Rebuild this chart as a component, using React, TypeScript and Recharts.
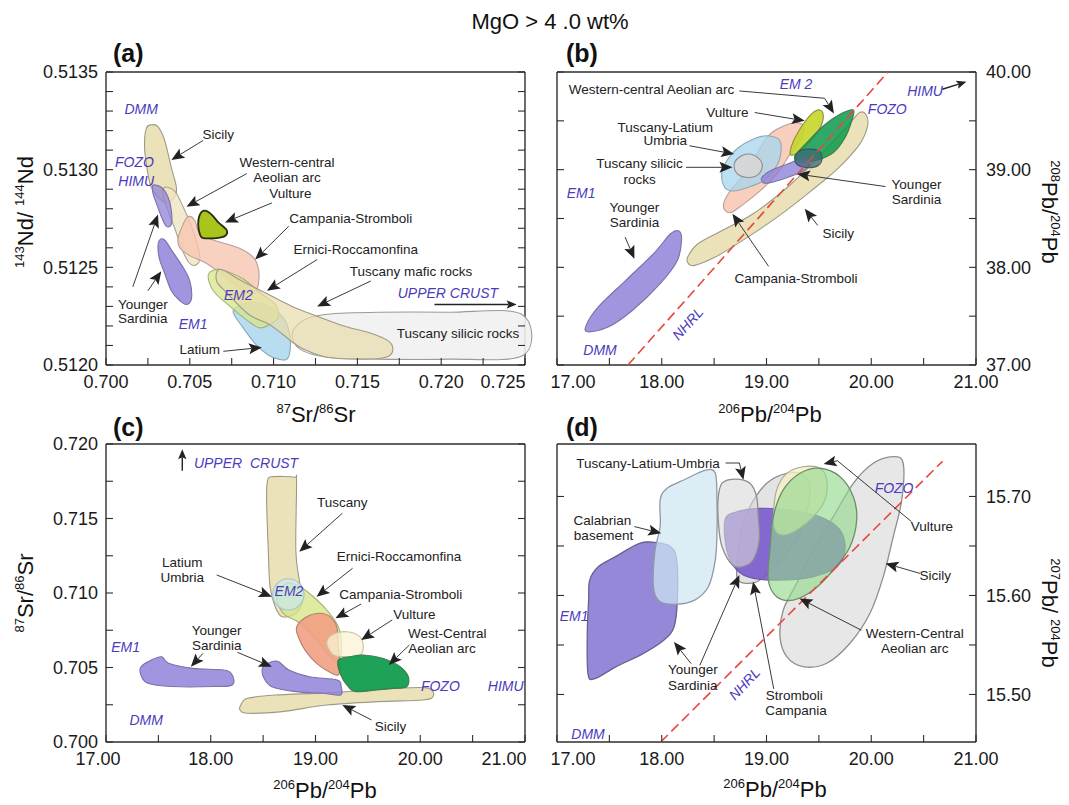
import React from 'react';
import { ScatterChart, Scatter, XAxis, YAxis } from 'recharts';

type Pair = [number, number];
type Note = { x: number; y: number; t: string };
type Pt = { x: number; y: number };

const PAGE_W = 1069;
const PAGE_H = 805;
const FONT = "'Liberation Sans', Arial, Helvetica, sans-serif";
const INK = '#222';
const MEMBER = '#4a3bbd';
const FRAME = '#2e2e2e';

// ---------- (a) 143Nd/144Nd vs 87Sr/86Sr ----------
const A_X_TICKS = [0.7, 0.7025, 0.705, 0.7075, 0.71, 0.7125, 0.715, 0.7175, 0.72, 0.7225, 0.725];
const A_Y_TICKS = [0.512, 0.5121, 0.5122, 0.5123, 0.5124, 0.5125, 0.5126, 0.5127, 0.5128, 0.5129, 0.513, 0.5131, 0.5132, 0.5133, 0.5134, 0.5135];

const A_TUSC_SILICIC: Pair[] = [[0.7111, 0.51216], [0.7118, 0.51223], [0.7132, 0.51226], [0.7163, 0.51227], [0.7204, 0.51227], [0.7248, 0.51226], [0.7249, 0.51205], [0.7204, 0.51203], [0.7163, 0.51203], [0.7132, 0.51204], [0.7116, 0.51208]];
const A_SICILY: Pair[] = [[0.7024, 0.51321], [0.7027, 0.51323], [0.7031, 0.51322], [0.7035, 0.51315], [0.7039, 0.51301], [0.7042, 0.51291], [0.7041, 0.51286], [0.7036, 0.51283], [0.7031, 0.51286], [0.7027, 0.51291], [0.7025, 0.51298], [0.7023, 0.51311]];
const A_WCAA: Pair[] = [[0.7035, 0.51291], [0.7041, 0.51289], [0.7046, 0.51281], [0.7051, 0.51271], [0.7055, 0.5126], [0.7056, 0.51254], [0.7053, 0.51251], [0.7049, 0.51253], [0.7045, 0.5126], [0.7041, 0.5127], [0.7037, 0.51279], [0.7034, 0.51287]];
const A_YS_UPPER: Pair[] = [[0.7028, 0.51292], [0.7033, 0.51291], [0.7037, 0.51286], [0.7039, 0.51279], [0.7039, 0.51272], [0.7036, 0.51271], [0.7033, 0.51276], [0.703, 0.51283], [0.7028, 0.51288]];
const A_YS_LOWER: Pair[] = [[0.7032, 0.51264], [0.7035, 0.51264], [0.7039, 0.51259], [0.7046, 0.5125], [0.705, 0.51243], [0.7051, 0.51234], [0.7048, 0.51231], [0.7044, 0.51233], [0.7039, 0.51238], [0.7035, 0.51247], [0.7032, 0.51254], [0.7031, 0.5126]];
const A_CAMPANIA: Pair[] = [[0.7049, 0.51276], [0.7053, 0.51274], [0.7056, 0.51267], [0.7064, 0.51264], [0.7079, 0.5126], [0.7088, 0.51255], [0.7091, 0.51249], [0.7091, 0.51242], [0.7089, 0.51237], [0.7084, 0.51237], [0.7079, 0.5124], [0.707, 0.51246], [0.706, 0.51252], [0.705, 0.51256], [0.7044, 0.5126], [0.7043, 0.51265], [0.7046, 0.51272]];
const A_LATIUM: Pair[] = [[0.7076, 0.51228], [0.7081, 0.51231], [0.7089, 0.51232], [0.7097, 0.5123], [0.7105, 0.51225], [0.7109, 0.51218], [0.711, 0.51209], [0.7108, 0.51203], [0.7103, 0.51203], [0.7097, 0.51205], [0.7089, 0.51211], [0.7081, 0.5122], [0.7077, 0.51225]];
const A_ERNICI: Pair[] = [[0.7061, 0.51246], [0.7066, 0.51249], [0.7072, 0.51248], [0.7082, 0.51244], [0.7092, 0.51237], [0.7101, 0.51231], [0.7103, 0.51225], [0.71, 0.51222], [0.7092, 0.51219], [0.7084, 0.51223], [0.7074, 0.5123], [0.7064, 0.51238]];
const A_TUSC_MAFIC: Pair[] = [[0.7068, 0.51249], [0.7081, 0.51243], [0.7095, 0.51237], [0.7111, 0.5123], [0.7126, 0.51225], [0.7142, 0.5122], [0.7159, 0.51216], [0.7169, 0.51212], [0.7171, 0.51207], [0.7167, 0.51204], [0.7155, 0.51203], [0.7132, 0.51204], [0.7116, 0.51209], [0.7105, 0.51216], [0.7097, 0.51221], [0.7085, 0.51226], [0.7072, 0.51237], [0.7066, 0.51243]];
const A_VULTURE: Pair[] = [[0.7056, 0.51277], [0.7059, 0.51279], [0.7063, 0.51277], [0.7067, 0.51273], [0.7072, 0.51269], [0.7071, 0.51266], [0.7066, 0.51265], [0.7058, 0.51265], [0.7056, 0.51267], [0.7055, 0.51272]];

const A_NOTES: Note[] = [
  { x: 0.7067, y: 0.51318, t: 'Sicily' },
  { x: 0.7108, y: 0.51304, t: 'Western-central' },
  { x: 0.7108, y: 0.51296, t: 'Aeolian arc' },
  { x: 0.711, y: 0.51288, t: 'Vulture' },
  { x: 0.7146, y: 0.51275, t: 'Campania-Stromboli' },
  { x: 0.7149, y: 0.51259, t: 'Ernici-Roccamonfina' },
  { x: 0.7182, y: 0.51248, t: 'Tuscany mafic rocks' },
  { x: 0.7022, y: 0.51231, t: 'Younger' },
  { x: 0.7022, y: 0.51224, t: 'Sardinia' },
  { x: 0.7056, y: 0.51208, t: 'Latium' },
  { x: 0.721, y: 0.51216, t: 'Tuscany silicic rocks' },
];
const A_MEMBERS: Note[] = [
  { x: 0.7021, y: 0.51331, t: 'DMM' },
  { x: 0.7017, y: 0.51304, t: 'FOZO' },
  { x: 0.7018, y: 0.51294, t: 'HIMU' },
  { x: 0.7052, y: 0.51221, t: 'EM1' },
  { x: 0.7079, y: 0.51236, t: 'EM2' },
  { x: 0.7204, y: 0.51237, t: 'UPPER CRUST' },
];
const A_ARROWS: Pair[][] = [
  [[0.7058, 0.51315], [0.7039, 0.51305]],
  [[0.7084, 0.51298], [0.7048, 0.51281]],
  [[0.7099, 0.51283], [0.7071, 0.51273]],
  [[0.7109, 0.51271], [0.7089, 0.51254]],
  [[0.7126, 0.51254], [0.7096, 0.51238]],
  [[0.7158, 0.51243], [0.7126, 0.5123]],
  [[0.7016, 0.5124], [0.7031, 0.51277]],
  [[0.7025, 0.51238], [0.7033, 0.51248]],
  [[0.707, 0.51207], [0.7093, 0.51209]],
];
const A_POINTERS: Pair[][] = [[[0.7196, 0.51231], [0.7245, 0.51231]]];

// ---------- (b) 208Pb/204Pb vs 206Pb/204Pb ----------
const PB_X_TICKS = [17, 17.5, 18, 18.5, 19, 19.5, 20, 20.5, 21];
const B_Y_TICKS = [37, 37.5, 38, 38.5, 39, 39.5, 40];

const B_YS_MAIN: Pair[] = [[17.279, 37.408], [17.394, 37.595], [17.657, 37.867], [17.92, 38.139], [18.084, 38.344], [18.166, 38.371], [18.189, 38.276], [18.149, 38.071], [17.985, 37.833], [17.722, 37.561], [17.493, 37.391], [17.296, 37.34]];
const B_SICILY: Pair[] = [[18.248, 38.105], [18.346, 38.241], [18.576, 38.378], [18.872, 38.548], [19.2, 38.82], [19.496, 39.126], [19.759, 39.432], [19.89, 39.585], [19.956, 39.551], [19.962, 39.432], [19.89, 39.262], [19.693, 39.024], [19.43, 38.786], [19.102, 38.514], [18.773, 38.276], [18.511, 38.105], [18.314, 38.02], [18.255, 38.037]];
const B_CAMPANIA: Pair[] = [[18.588, 38.628], [18.652, 38.782], [18.811, 38.986], [19.002, 39.327], [19.129, 39.43], [19.272, 39.481], [19.351, 39.447], [19.336, 39.327], [19.224, 39.157], [19.097, 38.953], [18.938, 38.782], [18.778, 38.645], [18.652, 38.559]];
const B_TLU: Pair[] = [[18.572, 38.953], [18.62, 39.089], [18.731, 39.225], [18.906, 39.327], [19.033, 39.345], [19.129, 39.294], [19.129, 39.123], [19.065, 38.986], [18.969, 38.884], [18.811, 38.815], [18.683, 38.782], [18.604, 38.815]];
const B_TUSC_SILICIC: Pair[] = [[18.96, 39.04], [18.92, 39.12], [18.83, 39.16], [18.73, 39.12], [18.69, 39.04], [18.73, 38.95], [18.83, 38.92], [18.92, 38.95]];
const B_VULTURE: Pair[] = [[19.224, 39.174], [19.272, 39.327], [19.384, 39.516], [19.479, 39.608], [19.537, 39.583], [19.527, 39.465], [19.447, 39.327], [19.32, 39.191], [19.256, 39.15]];
const B_WCAA: Pair[] = [[19.272, 39.14], [19.384, 39.276], [19.542, 39.447], [19.702, 39.567], [19.829, 39.611], [19.813, 39.498], [19.749, 39.327], [19.638, 39.174], [19.479, 39.096], [19.32, 39.082]];
const B_YS_SMALL: Pair[] = [[18.954, 38.918], [19.033, 38.986], [19.193, 39.055], [19.351, 39.116], [19.415, 39.071], [19.351, 38.986], [19.193, 38.918], [19.033, 38.867], [18.969, 38.867]];
const B_YS_DARK: Pair[] = [[19.53, 39.11], [19.5, 39.19], [19.4, 39.21], [19.3, 39.18], [19.27, 39.1], [19.31, 39.04], [19.4, 39.02], [19.49, 39.04]];
const B_NHRL: Pair[] = [[17.678, 37.0], [20.159, 40.0]];

const B_NOTES: Note[] = [
  { x: 17.903, y: 39.823, t: 'Western-central Aeolian arc' },
  { x: 18.626, y: 39.585, t: 'Vulture' },
  { x: 18.034, y: 39.439, t: 'Tuscany-Latium' },
  { x: 18.034, y: 39.296, t: 'Umbria' },
  { x: 17.788, y: 39.065, t: 'Tuscany silicic' },
  { x: 17.788, y: 38.905, t: 'rocks' },
  { x: 17.739, y: 38.616, t: 'Younger' },
  { x: 17.739, y: 38.463, t: 'Sardinia' },
  { x: 20.432, y: 38.854, t: 'Younger' },
  { x: 20.432, y: 38.701, t: 'Sardinia' },
  { x: 19.686, y: 38.344, t: 'Sicily' },
  { x: 19.282, y: 37.884, t: 'Campania-Stromboli' },
];
const B_MEMBERS: Note[] = [
  { x: 19.282, y: 39.874, t: 'EM 2' },
  { x: 20.514, y: 39.806, t: 'HIMU' },
  { x: 20.153, y: 39.619, t: 'FOZO' },
  { x: 17.23, y: 38.759, t: 'EM1' },
  { x: 17.411, y: 37.153, t: 'DMM' },
];
const B_TILTED: Note[] = [{ x: 18.248, y: 37.425, t: 'NHRL' }];
const B_ARROWS: Pair[][] = [
  [[18.741, 39.806], [19.555, 39.731], [19.644, 39.575]],
  [[18.888, 39.585], [19.365, 39.5]],
  [[18.264, 39.245], [18.691, 39.16]],
  [[18.232, 39.024], [18.675, 39.024]],
  [[17.65, 38.31], [17.739, 38.088]],
  [[20.136, 38.827], [19.292, 38.956]],
  [[19.489, 38.429], [19.365, 38.599]],
  [[19.02, 38.01], [18.675, 38.548]],
];
const B_POINTERS: Pair[][] = [[[20.678, 39.823], [20.908, 39.901]]];

// ---------- (c) 87Sr/86Sr vs 206Pb/204Pb ----------
const C_Y_TICKS = [0.7, 0.7025, 0.705, 0.7075, 0.71, 0.7125, 0.715, 0.7175, 0.72];

const C_SICILY: Pair[] = [[18.287, 0.70248], [18.353, 0.70293], [18.615, 0.70315], [19.108, 0.7033], [19.6, 0.70353], [19.995, 0.70366], [20.109, 0.70349], [20.12, 0.70304], [20.027, 0.70282], [19.6, 0.70271], [19.108, 0.70248], [18.681, 0.70204], [18.353, 0.70193], [18.28, 0.70215]];
const C_TUSCANY: Pair[] = [[18.543, 0.71758], [18.599, 0.71781], [18.796, 0.71777], [18.819, 0.71747], [18.812, 0.71289], [18.845, 0.71087], [18.878, 0.70953], [18.812, 0.70864], [18.681, 0.70841], [18.615, 0.70908], [18.566, 0.71042], [18.549, 0.71289], [18.533, 0.71624]];
const C_ERNICI: Pair[] = [[18.63, 0.70975], [18.725, 0.71065], [18.852, 0.71042], [18.979, 0.70975], [19.107, 0.70886], [19.218, 0.70774], [19.25, 0.7064], [19.218, 0.7055], [19.138, 0.70572], [19.011, 0.70685], [18.852, 0.70797], [18.693, 0.70864]];
const C_LATIUM: Pair[] = [[18.891, 0.70991], [18.847, 0.71065], [18.741, 0.71096], [18.635, 0.71065], [18.591, 0.70991], [18.635, 0.70917], [18.741, 0.70886], [18.847, 0.70917]];
const C_YS_WEST: Pair[] = [[17.334, 0.70505], [17.433, 0.7055], [17.532, 0.70572], [17.598, 0.70528], [17.827, 0.70494], [18.123, 0.70483], [18.205, 0.7045], [18.205, 0.70383], [18.025, 0.70372], [17.63, 0.70372], [17.4, 0.70394], [17.334, 0.7045]];
const C_YS_EAST: Pair[] = [[18.501, 0.70505], [18.583, 0.70539], [18.648, 0.70539], [18.747, 0.70483], [18.944, 0.70438], [19.206, 0.70416], [19.245, 0.70371], [19.239, 0.70315], [19.075, 0.70327], [18.812, 0.70338], [18.583, 0.70371], [18.501, 0.70438]];
const C_CAMPANIA: Pair[] = [[18.821, 0.70774], [18.916, 0.70841], [19.043, 0.70864], [19.138, 0.70841], [19.202, 0.70774], [19.218, 0.7064], [19.234, 0.70506], [19.218, 0.7045], [19.155, 0.70461], [19.011, 0.70528], [18.9, 0.70617], [18.836, 0.70706]];
const C_VULTURE: Pair[] = [[19.107, 0.70662], [19.155, 0.70718], [19.298, 0.7074], [19.425, 0.70706], [19.456, 0.7064], [19.425, 0.70584], [19.298, 0.70573], [19.17, 0.70584]];
const C_WCAA: Pair[] = [[19.218, 0.7055], [19.329, 0.70572], [19.456, 0.70584], [19.647, 0.70561], [19.807, 0.70506], [19.886, 0.70438], [19.871, 0.70371], [19.743, 0.7036], [19.584, 0.70349], [19.393, 0.70338], [19.313, 0.70371], [19.234, 0.70461]];

const C_NOTES: Note[] = [
  { x: 19.256, y: 0.71606, t: 'Tuscany' },
  { x: 19.797, y: 0.71244, t: 'Ernici-Roccamonfina' },
  { x: 17.728, y: 0.71203, t: 'Latium' },
  { x: 17.728, y: 0.71105, t: 'Umbria' },
  { x: 19.814, y: 0.70993, t: 'Campania-Stromboli' },
  { x: 19.945, y: 0.70859, t: 'Vulture' },
  { x: 20.257, y: 0.70729, t: 'West-Central' },
  { x: 20.208, y: 0.70629, t: 'Aeolian arc' },
  { x: 18.057, y: 0.70752, t: 'Younger' },
  { x: 18.057, y: 0.70651, t: 'Sardinia' },
  { x: 19.715, y: 0.70103, t: 'Sicily' },
];
const C_MEMBERS: Note[] = [
  { x: 18.337, y: 0.7187, t: 'UPPER\u00a0\u00a0CRUST' },
  { x: 18.747, y: 0.71015, t: 'EM2' },
  { x: 17.187, y: 0.70636, t: 'EM1' },
  { x: 20.192, y: 0.70376, t: 'FOZO' },
  { x: 20.816, y: 0.70376, t: 'HIMU' },
  { x: 17.384, y: 0.70148, t: 'DMM' },
];
const C_ARROWS: Pair[][] = [
  [[19.256, 0.71535], [18.845, 0.71277]],
  [[19.354, 0.71166], [19.01, 0.70975]],
  [[18.057, 0.71121], [18.583, 0.70975]],
  [[19.436, 0.70926], [19.19, 0.7083]],
  [[19.732, 0.70819], [19.436, 0.70685]],
  [[19.896, 0.70651], [19.699, 0.70517]],
  [[17.926, 0.70595], [17.81, 0.70505]],
  [[18.254, 0.70602], [18.583, 0.70505]],
  [[19.535, 0.70148], [19.256, 0.70248]],
];
const C_POINTERS: Pair[][] = [[[17.728, 0.71821], [17.728, 0.71964]]];

// ---------- (d) 207Pb/204Pb vs 206Pb/204Pb ----------
const D_Y_TICKS = [15.5, 15.55, 15.6, 15.65, 15.7];

const D_SICILY: Pair[] = [[19.129, 15.5584], [19.16, 15.5853], [19.288, 15.6123], [19.447, 15.6459], [19.638, 15.6796], [19.829, 15.7133], [20.019, 15.7335], [20.21, 15.7402], [20.305, 15.7335], [20.291, 15.6964], [20.21, 15.6594], [20.115, 15.619], [19.988, 15.582], [19.797, 15.5517], [19.575, 15.5315], [19.351, 15.5281], [19.193, 15.5382]];
const D_YS_WEST: Pair[] = [[17.312, 15.6155], [17.394, 15.6291], [17.558, 15.6392], [17.788, 15.6527], [17.952, 15.6534], [18.084, 15.6493], [18.143, 15.6358], [18.149, 15.5953], [18.117, 15.5682], [18.018, 15.5547], [17.821, 15.5412], [17.558, 15.5277], [17.361, 15.5159], [17.296, 15.5209], [17.289, 15.5615], [17.302, 15.5953]];
const D_CALABRIAN: Pair[] = [[17.985, 15.6966], [18.051, 15.7084], [18.215, 15.7169], [18.412, 15.7264], [18.511, 15.7236], [18.527, 15.6966], [18.527, 15.6628], [18.511, 15.6358], [18.445, 15.6088], [18.314, 15.5953], [18.149, 15.5912], [17.985, 15.5936], [17.92, 15.6088], [17.936, 15.6459], [17.985, 15.6696]];
const D_STROMBOLI: Pair[] = [[18.716, 15.6257], [18.747, 15.6594], [18.842, 15.6897], [19.002, 15.7133], [19.193, 15.7234], [19.351, 15.7217], [19.415, 15.7032], [19.32, 15.6628], [19.129, 15.6358], [18.938, 15.6156], [18.811, 15.6123], [18.731, 15.6156]];
const D_YS_EAST: Pair[] = [[18.604, 15.6762], [18.716, 15.6846], [18.938, 15.688], [19.224, 15.6863], [19.511, 15.6796], [19.702, 15.6661], [19.749, 15.6459], [19.67, 15.6291], [19.447, 15.619], [19.16, 15.6156], [18.874, 15.6173], [18.716, 15.6257], [18.62, 15.6459]];
const D_TLU: Pair[] = [[18.537, 15.6966], [18.576, 15.7135], [18.708, 15.7176], [18.839, 15.7135], [18.905, 15.7], [18.921, 15.6797], [18.931, 15.6561], [18.872, 15.6358], [18.773, 15.6291], [18.675, 15.6307], [18.576, 15.6493], [18.544, 15.6696]];
const D_VULTURE: Pair[] = [[19.065, 15.6796], [19.097, 15.7066], [19.193, 15.7234], [19.351, 15.7301], [19.511, 15.7285], [19.575, 15.7167], [19.559, 15.6965], [19.447, 15.6796], [19.288, 15.6661], [19.16, 15.6611], [19.081, 15.6661]];
const D_WCAA: Pair[] = [[19.033, 15.6459], [19.065, 15.6796], [19.16, 15.7066], [19.32, 15.7234], [19.511, 15.7285], [19.702, 15.72], [19.829, 15.6998], [19.861, 15.6762], [19.797, 15.6493], [19.638, 15.6257], [19.447, 15.6055], [19.256, 15.5954], [19.097, 15.5988], [19.017, 15.6156]];
const D_NHRL: Pair[] = [[17.99, 15.452], [20.68, 15.7355]];

const D_NOTES: Note[] = [
  { x: 17.87, y: 15.7338, t: 'Tuscany-Latium-Umbria' },
  { x: 17.434, y: 15.6757, t: 'Calabrian' },
  { x: 17.444, y: 15.6608, t: 'basement' },
  { x: 20.58, y: 15.6696, t: 'Vulture' },
  { x: 20.612, y: 15.62, t: 'Sicily' },
  { x: 20.415, y: 15.5615, t: 'Western-Central' },
  { x: 20.415, y: 15.5463, t: 'Aeolian arc' },
  { x: 18.297, y: 15.525, t: 'Younger' },
  { x: 18.297, y: 15.5098, t: 'Sardinia' },
  { x: 19.266, y: 15.499, t: 'Stromboli' },
  { x: 19.282, y: 15.4838, t: 'Campania' },
];
const D_MEMBERS: Note[] = [
  { x: 20.218, y: 15.7084, t: 'FOZO' },
  { x: 17.164, y: 15.5791, t: 'EM1' },
  { x: 17.296, y: 15.4601, t: 'DMM' },
];
const D_TILTED: Note[] = [{ x: 18.79, y: 15.5108, t: 'NHRL' }];
const D_ARROWS: Pair[][] = [
  [[18.609, 15.7338], [18.741, 15.7338], [18.78, 15.7169]],
  [[17.739, 15.6696], [17.995, 15.6628]],
  [[20.383, 15.6747], [19.677, 15.7361], [19.545, 15.7328]],
  [[20.465, 15.6223], [20.136, 15.6324]],
  [[19.906, 15.5649], [19.315, 15.597]],
  [[18.363, 15.5294], [18.741, 15.6206]],
  [[18.281, 15.5311], [18.117, 15.553]],
  [[19.069, 15.5057], [18.872, 15.6139]],
];

// ---------- helpers ----------
const toPts = (pairs: Pair[]) => pairs.map(([x, y]) => ({ x, y }));
const onStep = (v: number, step: number) => Math.abs(v / step - Math.round(v / step)) < 1e-6;

// closed Catmull-Rom outline through the projected vertices
const smoothClosed = (pts: Pt[]) => {
  const n = pts.length;
  if (n < 3) return '';
  let d = `M${pts[0].x},${pts[0].y}`;
  for (let i = 0; i < n; i++) {
    const p0 = pts[(i - 1 + n) % n];
    const p1 = pts[i];
    const p2 = pts[(i + 1) % n];
    const p3 = pts[(i + 2) % n];
    const c1x = p1.x + (p2.x - p0.x) / 6;
    const c1y = p1.y + (p2.y - p0.y) / 6;
    const c2x = p2.x - (p3.x - p1.x) / 6;
    const c2y = p2.y - (p3.y - p1.y) / 6;
    d += ` C${c1x},${c1y} ${c2x},${c2y} ${p2.x},${p2.y}`;
  }
  return d + ' Z';
};

const arrowLine = (head: number, width: number) => (lp: any) => {
  const pts: Pt[] = lp.points;
  const n = pts.length;
  const a = pts[n - 2];
  const b = pts[n - 1];
  const ang = Math.atan2(b.y - a.y, b.x - a.x);
  const cos = Math.cos(ang);
  const sin = Math.sin(ang);
  const bx = b.x - head * cos;
  const by = b.y - head * sin;
  const half = head * 0.42;
  const nx = b.x - head * 0.8 * cos;
  const ny = b.y - head * 0.8 * sin;
  const shaft = pts.slice(0, n - 1).map((q, i) => `${i ? 'L' : 'M'}${q.x},${q.y}`).join(' ') + ` L${nx},${ny}`;
  const tip = `M${b.x},${b.y} L${bx + half * sin},${by - half * cos} L${nx},${ny} L${bx - half * sin},${by + half * cos} Z`;
  return (
    <g>
      <path d={shaft} fill="none" stroke={INK} strokeWidth={width} />
      <path d={tip} fill={INK} />
    </g>
  );
};

const dashedLine = (lp: any) => {
  const pts: Pt[] = lp.points;
  return <path d={`M${pts[0].x},${pts[0].y} L${pts[1].x},${pts[1].y}`} stroke="#e8473d" strokeWidth={1.6} strokeDasharray="10 5" fill="none" />;
};

const blank = () => <g />;

interface Field { data: Pair[]; fill: string; stroke: string; opacity: number; width?: number }
interface Box { left: number; top: number; right: number; bottom: number }
interface PanelSpec {
  id: string;
  box: Box;
  xDomain: [number, number];
  yDomain: [number, number];
  xTicks: number[];
  yTicks: number[];
  xLabel: (v: number) => string;
  yLabel: (v: number) => string;
  ySide: 'left' | 'right';
  xShift: Record<string, number>;
  fields: Field[];
  notes: Note[];
  members: Note[];
  tilted: Note[];
  tiltAngle: number;
  arrows: Pair[][];
  pointers: Pair[][];
  nhrl: Pair[] | null;
}

const TAN = { fill: '#e8dcaa', stroke: '#9e9a88', opacity: 0.82 };
const CREAM = { fill: '#efe5c0', stroke: '#a8a490', opacity: 0.8 };
const PINK = { fill: '#f8c6b2', stroke: '#b8a098', opacity: 0.8 };
const LILAC = { fill: '#8f82d8', stroke: '#7b72a8', opacity: 0.85 };
const SKY = { fill: '#a6d5ee', stroke: '#8aa8b8', opacity: 0.8 };
const LIME = { fill: '#d6e68a', stroke: '#a8b078', opacity: 0.8 };
const PALE = { fill: '#f1f1f1', stroke: '#9a9a9a', opacity: 0.9 };
const GREEN = { fill: '#0b9a4a', stroke: '#3f7a50', opacity: 0.92 };

const PANELS: PanelSpec[] = [
  {
    id: 'a',
    box: { left: 106, top: 72, right: 525, bottom: 365 },
    xDomain: [0.7, 0.725],
    yDomain: [0.512, 0.5135],
    xTicks: A_X_TICKS,
    yTicks: A_Y_TICKS,
    xLabel: (v) => (onStep(v, 0.005) ? v.toFixed(3) : ''),
    yLabel: (v) => (onStep(v, 0.0005) ? v.toFixed(4) : ''),
    ySide: 'left',
    xShift: { '0.725': -22 },
    fields: [
      { data: A_TUSC_SILICIC, ...PALE },
      { data: A_SICILY, ...TAN },
      { data: A_WCAA, ...CREAM },
      { data: A_YS_UPPER, ...LILAC, opacity: 0.75 },
      { data: A_YS_LOWER, ...LILAC },
      { data: A_CAMPANIA, ...PINK },
      { data: A_LATIUM, ...SKY },
      { data: A_ERNICI, ...LIME, opacity: 0.75 },
      { data: A_TUSC_MAFIC, ...TAN, opacity: 0.7 },
      { data: A_VULTURE, fill: '#a9c51c', stroke: '#2b2b14', opacity: 1, width: 1.8 },
    ],
    notes: A_NOTES,
    members: A_MEMBERS,
    tilted: [],
    tiltAngle: 0,
    arrows: A_ARROWS,
    pointers: A_POINTERS,
    nhrl: null,
  },
  {
    id: 'b',
    box: { left: 557, top: 72, right: 976, bottom: 365 },
    xDomain: [17, 21],
    yDomain: [37, 40],
    xTicks: PB_X_TICKS,
    yTicks: B_Y_TICKS,
    xLabel: (v) => (onStep(v, 1) ? v.toFixed(2) : ''),
    yLabel: (v) => (onStep(v, 1) ? v.toFixed(2) : ''),
    ySide: 'right',
    xShift: { '17.00': 16 },
    fields: [
      { data: B_SICILY, ...TAN },
      { data: B_YS_MAIN, ...LILAC },
      { data: B_CAMPANIA, ...PINK, opacity: 0.85 },
      { data: B_TLU, ...SKY, opacity: 0.75 },
      { data: B_TUSC_SILICIC, fill: '#d6d6d6', stroke: '#8c8c8c', opacity: 0.95 },
      { data: B_VULTURE, fill: '#c4d62a', stroke: '#8a9040', opacity: 0.9 },
      { data: B_WCAA, ...GREEN, opacity: 0.85 },
      { data: B_YS_SMALL, ...LILAC, opacity: 0.8 },
      { data: B_YS_DARK, fill: '#3e6874', stroke: '#3a5560', opacity: 0.75 },
    ],
    notes: B_NOTES,
    members: B_MEMBERS,
    tilted: B_TILTED,
    tiltAngle: -48,
    arrows: B_ARROWS,
    pointers: B_POINTERS,
    nhrl: B_NHRL,
  },
  {
    id: 'c',
    box: { left: 106, top: 444, right: 525, bottom: 742 },
    xDomain: [17, 21],
    yDomain: [0.7, 0.72],
    xTicks: PB_X_TICKS,
    yTicks: C_Y_TICKS,
    xLabel: (v) => (onStep(v, 1) ? v.toFixed(2) : ''),
    yLabel: (v) => (onStep(v, 0.005) ? v.toFixed(3) : ''),
    ySide: 'left',
    xShift: { '17.00': -8, '21.00': -21 },
    fields: [
      { data: C_SICILY, ...TAN },
      { data: C_TUSCANY, ...TAN },
      { data: C_ERNICI, ...LIME },
      { data: C_LATIUM, fill: '#cbe9ec', stroke: '#9fc4d0', opacity: 0.7 },
      { data: C_YS_WEST, ...LILAC },
      { data: C_YS_EAST, ...LILAC },
      { data: C_CAMPANIA, fill: '#f2a083', stroke: '#b08070', opacity: 0.9 },
      { data: C_VULTURE, fill: '#fbf3d6', stroke: '#c8c0a0', opacity: 0.75 },
      { data: C_WCAA, ...GREEN },
    ],
    notes: C_NOTES,
    members: C_MEMBERS,
    tilted: [],
    tiltAngle: 0,
    arrows: C_ARROWS,
    pointers: C_POINTERS,
    nhrl: null,
  },
  {
    id: 'd',
    box: { left: 557, top: 444, right: 976, bottom: 742 },
    xDomain: [17, 21],
    yDomain: [15.452, 15.753],
    xTicks: PB_X_TICKS,
    yTicks: D_Y_TICKS,
    xLabel: (v) => (onStep(v, 1) ? v.toFixed(2) : ''),
    yLabel: (v) => (onStep(v, 0.1) ? v.toFixed(2) : ''),
    ySide: 'right',
    xShift: { '17.00': 16 },
    fields: [
      { data: D_SICILY, fill: '#e4e4e4', stroke: '#8e8e8e', opacity: 0.9, width: 1.3 },
      { data: D_YS_WEST, fill: '#8a7bd4', stroke: '#6a6090', opacity: 0.9, width: 1.3 },
      { data: D_CALABRIAN, fill: '#cfe6f3', stroke: '#8c9aa4', opacity: 0.72, width: 1.3 },
      { data: D_STROMBOLI, fill: '#dedede', stroke: '#8e8e8e', opacity: 0.85, width: 1.3 },
      { data: D_YS_EAST, fill: '#7657cc', stroke: '#6a5aa8', opacity: 0.88 },
      { data: D_TLU, fill: '#d9d9d9', stroke: '#8e8e8e', opacity: 0.6, width: 1.3 },
      { data: D_VULTURE, fill: '#f5efc4', stroke: '#a8a890', opacity: 0.8 },
      { data: D_WCAA, fill: '#92d98a', stroke: '#6a8f6a', opacity: 0.62, width: 1.3 },
    ],
    notes: D_NOTES,
    members: D_MEMBERS,
    tilted: D_TILTED,
    tiltAngle: -47,
    arrows: D_ARROWS,
    pointers: [],
    nhrl: D_NHRL,
  },
];

const TICK_LEN = 7;
// axes get a 1px band (a zero-sized axis is not drawn); margins absorb it
const AXIS_BAND = 1;

function renderPanel(spec: PanelSpec) {
  const { box } = spec;
  const plotW = box.right - box.left;
  const margin = {
    top: box.top - AXIS_BAND,
    left: box.left - AXIS_BAND,
    right: PAGE_W - box.right - AXIS_BAND,
    bottom: PAGE_H - box.bottom - AXIS_BAND,
  };
  const frame = { stroke: FRAME, strokeWidth: 1.4 };

  const bottomTick = (p: any) => {
    const label = spec.xLabel(p.payload.value);
    const dx = spec.xShift[label] || 0;
    return (
      <g>
        <line x1={p.x} x2={p.x} y1={p.y} y2={p.y - TICK_LEN} stroke={FRAME} strokeWidth={1.1} />
        {label ? (
          <text x={p.x + dx} y={p.y + 23} textAnchor="middle" fontSize={18} fill="#1a1a1a" fontFamily={FONT}>{label}</text>
        ) : null}
      </g>
    );
  };
  const topTick = (p: any) => (
    <line x1={p.x} x2={p.x} y1={p.y} y2={p.y + TICK_LEN} stroke={FRAME} strokeWidth={1.1} />
  );
  // ticks on both vertical edges come from the left axis; labels go on the panel's labelled side
  const sideTick = (p: any) => {
    const label = spec.yLabel(p.payload.value);
    const rx = p.x + plotW;
    return (
      <g>
        <line x1={p.x} x2={p.x + TICK_LEN} y1={p.y} y2={p.y} stroke={FRAME} strokeWidth={1.1} />
        <line x1={rx} x2={rx - TICK_LEN} y1={p.y} y2={p.y} stroke={FRAME} strokeWidth={1.1} />
        {label && spec.ySide === 'left' ? (
          <text x={p.x - 8} y={p.y} dy="0.36em" textAnchor="end" fontSize={18} fill="#1a1a1a" fontFamily={FONT}>{label}</text>
        ) : null}
        {label && spec.ySide === 'right' ? (
          <text x={rx + 10} y={p.y} dy="0.36em" textAnchor="start" fontSize={18} fill="#1a1a1a" fontFamily={FONT}>{label}</text>
        ) : null}
      </g>
    );
  };

  const noteShape = (p: any) => (
    <text x={p.cx} y={p.cy} dy="0.35em" textAnchor="middle" fontSize={13.5} fill={INK} fontFamily={FONT}>{p.payload.t}</text>
  );
  const memberShape = (p: any) => (
    <text x={p.cx} y={p.cy} dy="0.35em" textAnchor="middle" fontSize={14} fontStyle="italic" fill={MEMBER} fontFamily={FONT}>{p.payload.t}</text>
  );
  const tiltShape = (p: any) => (
    <text x={p.cx} y={p.cy} dy="0.35em" textAnchor="middle" fontSize={14} fontStyle="italic" fill={MEMBER} fontFamily={FONT}
      transform={`rotate(${spec.tiltAngle} ${p.cx} ${p.cy})`}>{p.payload.t}</text>
  );

  const axisCommon = { type: 'number' as const, tickSize: 0, tickMargin: 0, interval: 0 as const, tickLine: false, axisLine: frame };

  return (
    <div key={spec.id} style={{ position: 'absolute', left: 0, top: 0 }}>
      <ScatterChart width={PAGE_W} height={PAGE_H} margin={margin}>
        <XAxis xAxisId="bottom" dataKey="x" domain={spec.xDomain} ticks={spec.xTicks} height={AXIS_BAND} tick={bottomTick} {...axisCommon} />
        <XAxis xAxisId="top" orientation="top" dataKey="x" domain={spec.xDomain} ticks={spec.xTicks} height={AXIS_BAND} tick={topTick} {...axisCommon} />
        <YAxis yAxisId="left" dataKey="y" domain={spec.yDomain} ticks={spec.yTicks} width={AXIS_BAND} tick={sideTick} {...axisCommon} />
        <YAxis yAxisId="right" orientation="right" dataKey="y" domain={spec.yDomain} ticks={spec.yTicks} width={AXIS_BAND} {...axisCommon} tick={false} />

        {spec.fields.map((f, i) => (
          <Scatter
            key={`field-${i}`}
            xAxisId="bottom"
            yAxisId="left"
            data={toPts(f.data)}
            isAnimationActive={false}
            shape={blank}
            line={(lp: any) => (
              <path d={smoothClosed(lp.points)} fill={f.fill} fillOpacity={f.opacity} stroke={f.stroke} strokeWidth={f.width ?? 1.1} />
            )}
          />
        ))}

        {spec.nhrl ? (
          <Scatter key="nhrl" xAxisId="bottom" yAxisId="left" data={toPts(spec.nhrl)} isAnimationActive={false} shape={blank} line={dashedLine} />
        ) : null}

        {spec.arrows.map((a, i) => (
          <Scatter key={`arrow-${i}`} xAxisId="bottom" yAxisId="left" data={toPts(a)} isAnimationActive={false} shape={blank} line={arrowLine(13, 0.9)} />
        ))}
        {spec.pointers.map((a, i) => (
          <Scatter key={`pointer-${i}`} xAxisId="bottom" yAxisId="left" data={toPts(a)} isAnimationActive={false} shape={blank} line={arrowLine(10, 1.4)} />
        ))}

        <Scatter key="notes" xAxisId="bottom" yAxisId="left" data={spec.notes} isAnimationActive={false} shape={noteShape} />
        <Scatter key="members" xAxisId="bottom" yAxisId="left" data={spec.members} isAnimationActive={false} shape={memberShape} />
        {spec.tilted.length ? (
          <Scatter key="tilted" xAxisId="bottom" yAxisId="left" data={spec.tilted} isAnimationActive={false} shape={tiltShape} />
        ) : null}
      </ScatterChart>
    </div>
  );
}

// axis titles: [superscript, text] pairs
const AXIS_TITLES = [
  { x: 316, y: 422, rot: 0, parts: [['87', 'Sr/'], ['86', 'Sr']] },
  { x: 33, y: 212, rot: -90, parts: [['143', 'Nd/ '], ['144', 'Nd']] },
  { x: 770, y: 422, rot: 0, parts: [['206', 'Pb/'], ['204', 'Pb']] },
  { x: 1042, y: 212, rot: 90, parts: [['208', 'Pb/'], ['204', 'Pb']] },
  { x: 325, y: 798, rot: 0, parts: [['206', 'Pb/'], ['204', 'Pb']] },
  { x: 33, y: 593, rot: -90, parts: [['87', 'Sr/'], ['86', 'Sr']] },
  { x: 775, y: 797, rot: 0, parts: [['206', 'Pb/'], ['204', 'Pb']] },
  { x: 1042, y: 613, rot: 90, parts: [['207', 'Pb/ '], ['204', 'Pb']] },
];

const PANEL_TAGS = [
  { x: 113, y: 62, t: '(a)' },
  { x: 566, y: 62, t: '(b)' },
  { x: 113, y: 436, t: '(c)' },
  { x: 566, y: 436, t: '(d)' },
];

export default function App() {
  return (
    <div style={{ position: 'absolute', left: 0, top: 0, width: PAGE_W, height: PAGE_H, background: '#fff', fontFamily: FONT }}>
      <svg width={PAGE_W} height={PAGE_H} style={{ position: 'absolute', left: 0, top: 0 }} fontFamily={FONT}>
        <text x={550} y={29} textAnchor="middle" fontSize={22} fill="#111">MgO &gt; 4 .0 wt%</text>
        {PANEL_TAGS.map((p) => (
          <text key={p.t} x={p.x} y={p.y} fontSize={25} fontWeight="bold" fill="#111">{p.t}</text>
        ))}
        {AXIS_TITLES.map((a, i) => (
          <text key={i} x={a.x} y={a.y} textAnchor="middle" fontSize={22} fill="#111"
            transform={a.rot ? `rotate(${a.rot} ${a.x} ${a.y})` : undefined}>
            {a.parts.map(([sup, body], j) => (
              <React.Fragment key={j}>
                <tspan fontSize={13} dy={-9}>{sup}</tspan>
                <tspan dy={9}>{body}</tspan>
              </React.Fragment>
            ))}
          </text>
        ))}
      </svg>
      {PANELS.map(renderPanel)}
    </div>
  );
}
